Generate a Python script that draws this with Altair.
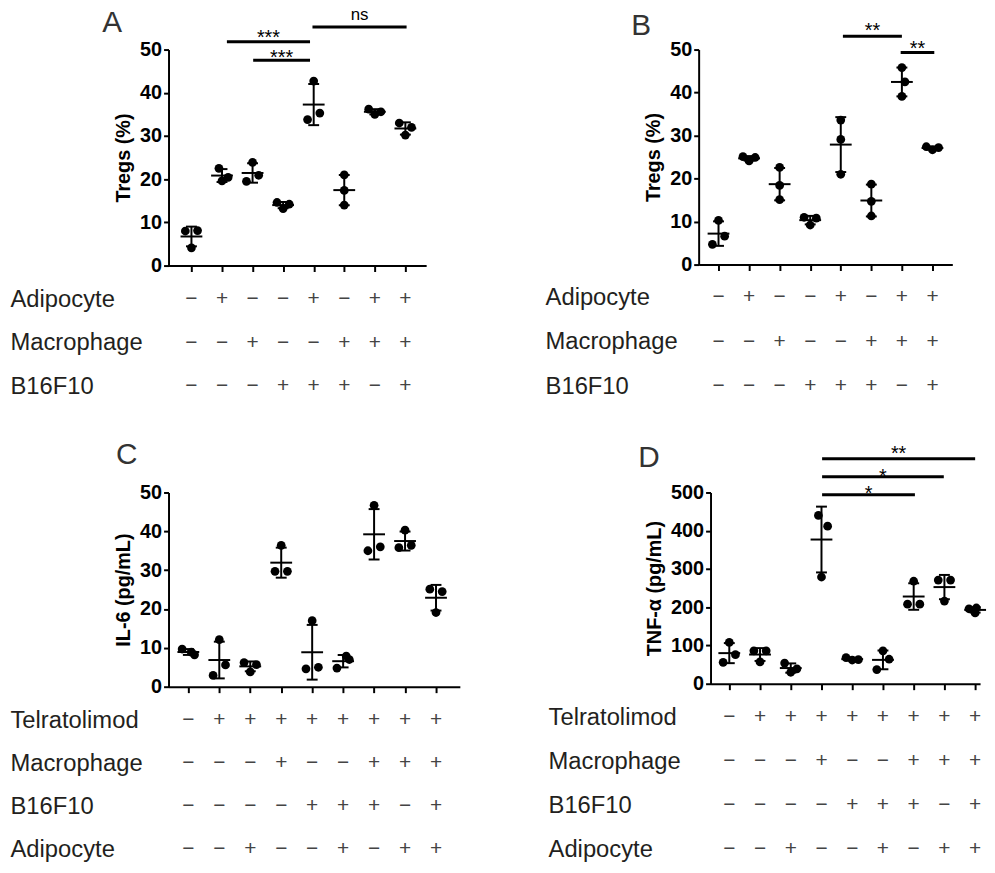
import altair as alt
import pandas as pd

FONT = "Liberation Sans"

# ---------------- data ----------------
# Panel A : Tregs (%)  (3 replicates per group)
a_vals = [[8.0, 8.1, 4.1], [22.5, 19.6, 20.4], [23.9, 19.5, 20.9], [14.6, 14.2, 13.2],
          [42.7, 33.8, 35.3], [21.0, 17.4, 14.0], [36.2, 35.0, 35.6], [33.0, 32.0, 30.2]]
a_jit = [[-1, 1, 0], [-0.5, 0, 1], [0, -1, 1], [-1, 1, 0],
         [0, -1, 1], [0, 0, 0], [-1, 0, 1], [-1, 1, 0]]
a_sig_x1 = [2.16, 3.02, 4.96]
a_sig_x2 = [4.88, 4.88, 8.04]
a_sig_y = [51.8, 47.5, 55.2]
a_sig_lab = ["***", "***", "ns"]
a_sig_ty = [51.4, 46.7, 56.9]

# Panel B : Tregs (%)
b_vals = [[10.3, 6.6, 4.7], [25.1, 24.9, 24.1], [22.6, 18.4, 15.1], [11.0, 10.8, 9.2],
          [33.6, 29.1, 21.0], [18.7, 14.7, 11.3], [45.8, 42.5, 39.1], [27.4, 27.2, 26.7]]
b_jit = [[0, 1, -1], [-1, 1, 0], [0, 0, 0], [-1, 1, 0],
         [0, 0, 0], [0, 0, 0], [0, 0.5, 0], [-1, 1, 0]]
b_sig_x1 = [5.07, 6.96]
b_sig_x2 = [7.0, 8.06]
b_sig_y = [53.1, 49.3]
b_sig_lab = ["**", "**"]
b_sig_ty = [52.9, 48.7]

# Panel C : IL-6 (pg/mL)
c_vals = [[9.7, 8.9, 8.2], [12.1, 5.6, 2.9], [6.2, 5.7, 3.8], [36.4, 29.7, 29.7], [17.0, 4.6, 5.0],
          [4.8, 7.9, 7.0], [46.7, 35.0, 36.0], [40.3, 35.8, 36.4], [25.1, 24.5, 19.1]]
c_jit = [[-1, 0.5, 1], [0, 1, -1], [-1, 1, 0], [0, -1, 1], [0, -1, 1],
         [-1, 0.5, 1], [0, -1, 1], [0, -1, 1], [-1, 1, 0]]

# Panel D : TNF-alpha (pg/mL)
d_vals = [[108, 76, 56], [86, 86, 57], [54, 39, 30], [440, 412, 279], [68, 62, 63],
          [86, 64, 37], [268, 208, 208], [271, 271, 216], [196, 198, 185]]
d_jit = [[0, 1, -1], [-1, 1, 0], [-1, 1, 0], [-0.5, 1, 0], [-1, 0, 1],
         [0, 1, -1], [0, -1, 1], [-1, 1, 0], [-1, 0.2, 0]]
d_sig_x1 = [4.02, 4.02, 4.02]
d_sig_x2 = [9.0, 7.98, 7.04]
d_sig_y = [588, 541, 494]
d_sig_lab = ["**", "*", "*"]
d_sig_ty = [586, 526, 480]

# condition tables
ab_rows = ["Adipocyte", "Macrophage", "B16F10"]
ab_signs = ["−+−−+−++", "−−+−−+++", "−−−+++−+"]
cd_rows = ["Telratolimod", "Macrophage", "B16F10", "Adipocyte"]
cd_signs = ["−++++++++", "−−−+−−+++", "−−−−+++−+", "−−+−−+−++"]

y50_ticks = [0, 10, 20, 30, 40, 50]
y500_ticks = [0, 100, 200, 300, 400, 500]


def scatter(vals, jit, sig, xdom, w, h, ydom, yticks, ytitle, letter, tdx, tdy):
    n = len(vals)
    df = pd.DataFrame([{"g": i + 1, "v": v, "j": j}
                       for i, (vs, js) in enumerate(zip(vals, jit))
                       for v, j in zip(vs, js)])
    xs = alt.Scale(domain=xdom, nice=False, zero=False)
    ys = alt.Scale(domain=ydom, nice=False, zero=True)
    xax = alt.Axis(values=list(range(1, n + 1)), labels=False, title=None, grid=False,
                   tickSize=6, tickWidth=2, tickColor="black",
                   domainWidth=2, domainColor="black")
    yax = alt.Axis(values=yticks, title=ytitle, grid=False,
                   titleFont=FONT, titleFontSize=20, titleFontWeight="bold",
                   titleColor="black", titlePadding=6,
                   labelFont=FONT, labelFontSize=20, labelFontWeight="bold",
                   labelColor="black", labelPadding=2,
                   tickSize=5, tickWidth=2, tickColor="black",
                   domainWidth=2, domainColor="black")

    def X(f):
        return alt.X(f, scale=xs, axis=xax)

    def Y(f):
        return alt.Y(f, scale=ys, axis=yax)

    base = alt.Chart(df)
    stats = base.transform_aggregate(
        m="mean(v)", sd="stdev(v)", groupby=["g"]
    ).transform_calculate(lo="datum.m - datum.sd", hi="datum.m + datum.sd")

    bar = stats.mark_rule(color="black", strokeWidth=2).encode(
        x=X("g:Q"), y=Y("lo:Q"), y2="hi:Q")
    caps = stats.transform_fold(["lo", "hi"], as_=["k", "cv"]).mark_tick(
        orient="horizontal", size=11, thickness=2, color="black", opacity=1
    ).encode(x=X("g:Q"), y=Y("cv:Q"))
    mean = stats.mark_tick(
        orient="horizontal", size=22, thickness=2, color="black", opacity=1
    ).encode(x=X("g:Q"), y=Y("m:Q"))
    pts = base.transform_calculate(xj="datum.g + 0.2 * datum.j").mark_circle(
        size=78, color="black", opacity=1
    ).encode(x=X("xj:Q"), y=Y("v:Q"))
    layers = [bar, caps, mean, pts]

    if sig is not None:
        x1, x2, yy, lab, ty = sig
        sdf = pd.DataFrame({"x1": x1, "x2": x2, "y": yy, "lab": lab, "ty": ty})
        sb = alt.Chart(sdf).transform_calculate(xm="(datum.x1 + datum.x2) / 2")
        rules = sb.mark_rule(color="black", strokeWidth=3).encode(
            x=X("x1:Q"), x2="x2:Q", y=Y("y:Q"))
        stars = sb.transform_filter("datum.lab != 'ns'").mark_text(
            font=FONT, fontSize=20, baseline="alphabetic", color="black"
        ).encode(x=X("xm:Q"), y=Y("ty:Q"), text="lab:N")
        ns = sb.transform_filter("datum.lab == 'ns'").mark_text(
            font=FONT, fontSize=17, baseline="alphabetic", color="black"
        ).encode(x=X("xm:Q"), y=Y("ty:Q"), text="lab:N")
        layers += [rules, stars, ns]

    return alt.layer(*layers).properties(
        width=w, height=h,
        title=alt.TitleParams(letter, anchor="start", frame="group", font=FONT,
                              fontSize=30, fontWeight="normal", color="#333333",
                              dx=tdx, dy=tdy),
    )


def table(rows, signs, xdom, w, h, rng, pad):
    recs = [{"row": r, "col": c + 1, "s": ch}
            for r, sg in zip(rows, signs) for c, ch in enumerate(sg)]
    df = pd.DataFrame(recs)
    return alt.Chart(df).mark_text(font=FONT, fontSize=21, color="#444444").encode(
        x=alt.X("col:Q", scale=alt.Scale(domain=xdom, nice=False, zero=False), axis=None),
        y=alt.Y("row:N", sort=rows,
                scale=alt.Scale(type="point", range=rng, padding=0),
                axis=alt.Axis(title=None, domain=False, ticks=False, tickSize=0,
                              labelAlign="left", labelPadding=pad, labelFont=FONT,
                              labelFontSize=24, labelColor="#231f20", labelLimit=0)),
        text="s:N",
    ).properties(width=w, height=h)


A_dom, B_dom, C_dom, D_dom = [0.25, 8.68], [0.35, 8.65], [0.36, 9.77], [0.39, 9.16]

sA = scatter(a_vals, a_jit, (a_sig_x1, a_sig_x2, a_sig_y, a_sig_lab, a_sig_ty),
             A_dom, 260, 218, [0, 50], y50_ticks, "Tregs (%)", "A", -67, 36)
sB = scatter(b_vals, b_jit, (b_sig_x1, b_sig_x2, b_sig_y, b_sig_lab, b_sig_ty),
             B_dom, 256, 217, [0, 50], y50_ticks, "Tregs (%)", "B", -68, 24)
sC = scatter(c_vals, c_jit, None,
             C_dom, 294, 196, [0, 50], y50_ticks, "IL-6 (pg/mL)", "C", -53, -9)
sD = scatter(d_vals, d_jit, (d_sig_x1, d_sig_x2, d_sig_y, d_sig_lab, d_sig_ty),
             D_dom, 272, 193, [0, 500], y500_ticks, "TNF-α (pg/mL)", "D", -73, 33)

tA = table(ab_rows, ab_signs, A_dom, 260, 118, [24, 112], 160)
tB = table(ab_rows, ab_signs, B_dom, 256, 118, [22, 112], 155)
tC = table(cd_rows, cd_signs, C_dom, 294, 154, [24, 154], 160)
tD = table(cd_rows, cd_signs, D_dom, 272, 154, [21, 154], 164)

row_ab = alt.concat(sA, sB, tA, tB, columns=2, bounds="flush",
                    spacing={"row": 10, "column": 275})
row_cd = alt.concat(sC, sD, tC, tD, columns=2, bounds="flush",
                    spacing={"row": 10, "column": 253})

chart = alt.vconcat(row_ab, row_cd, spacing=42).properties(
    padding={"left": 2, "top": -7, "right": 0, "bottom": 0},
    background="white",
).configure_view(stroke=None)

chart.save("out.html", embed_options={"renderer": "svg", "actions": False})
